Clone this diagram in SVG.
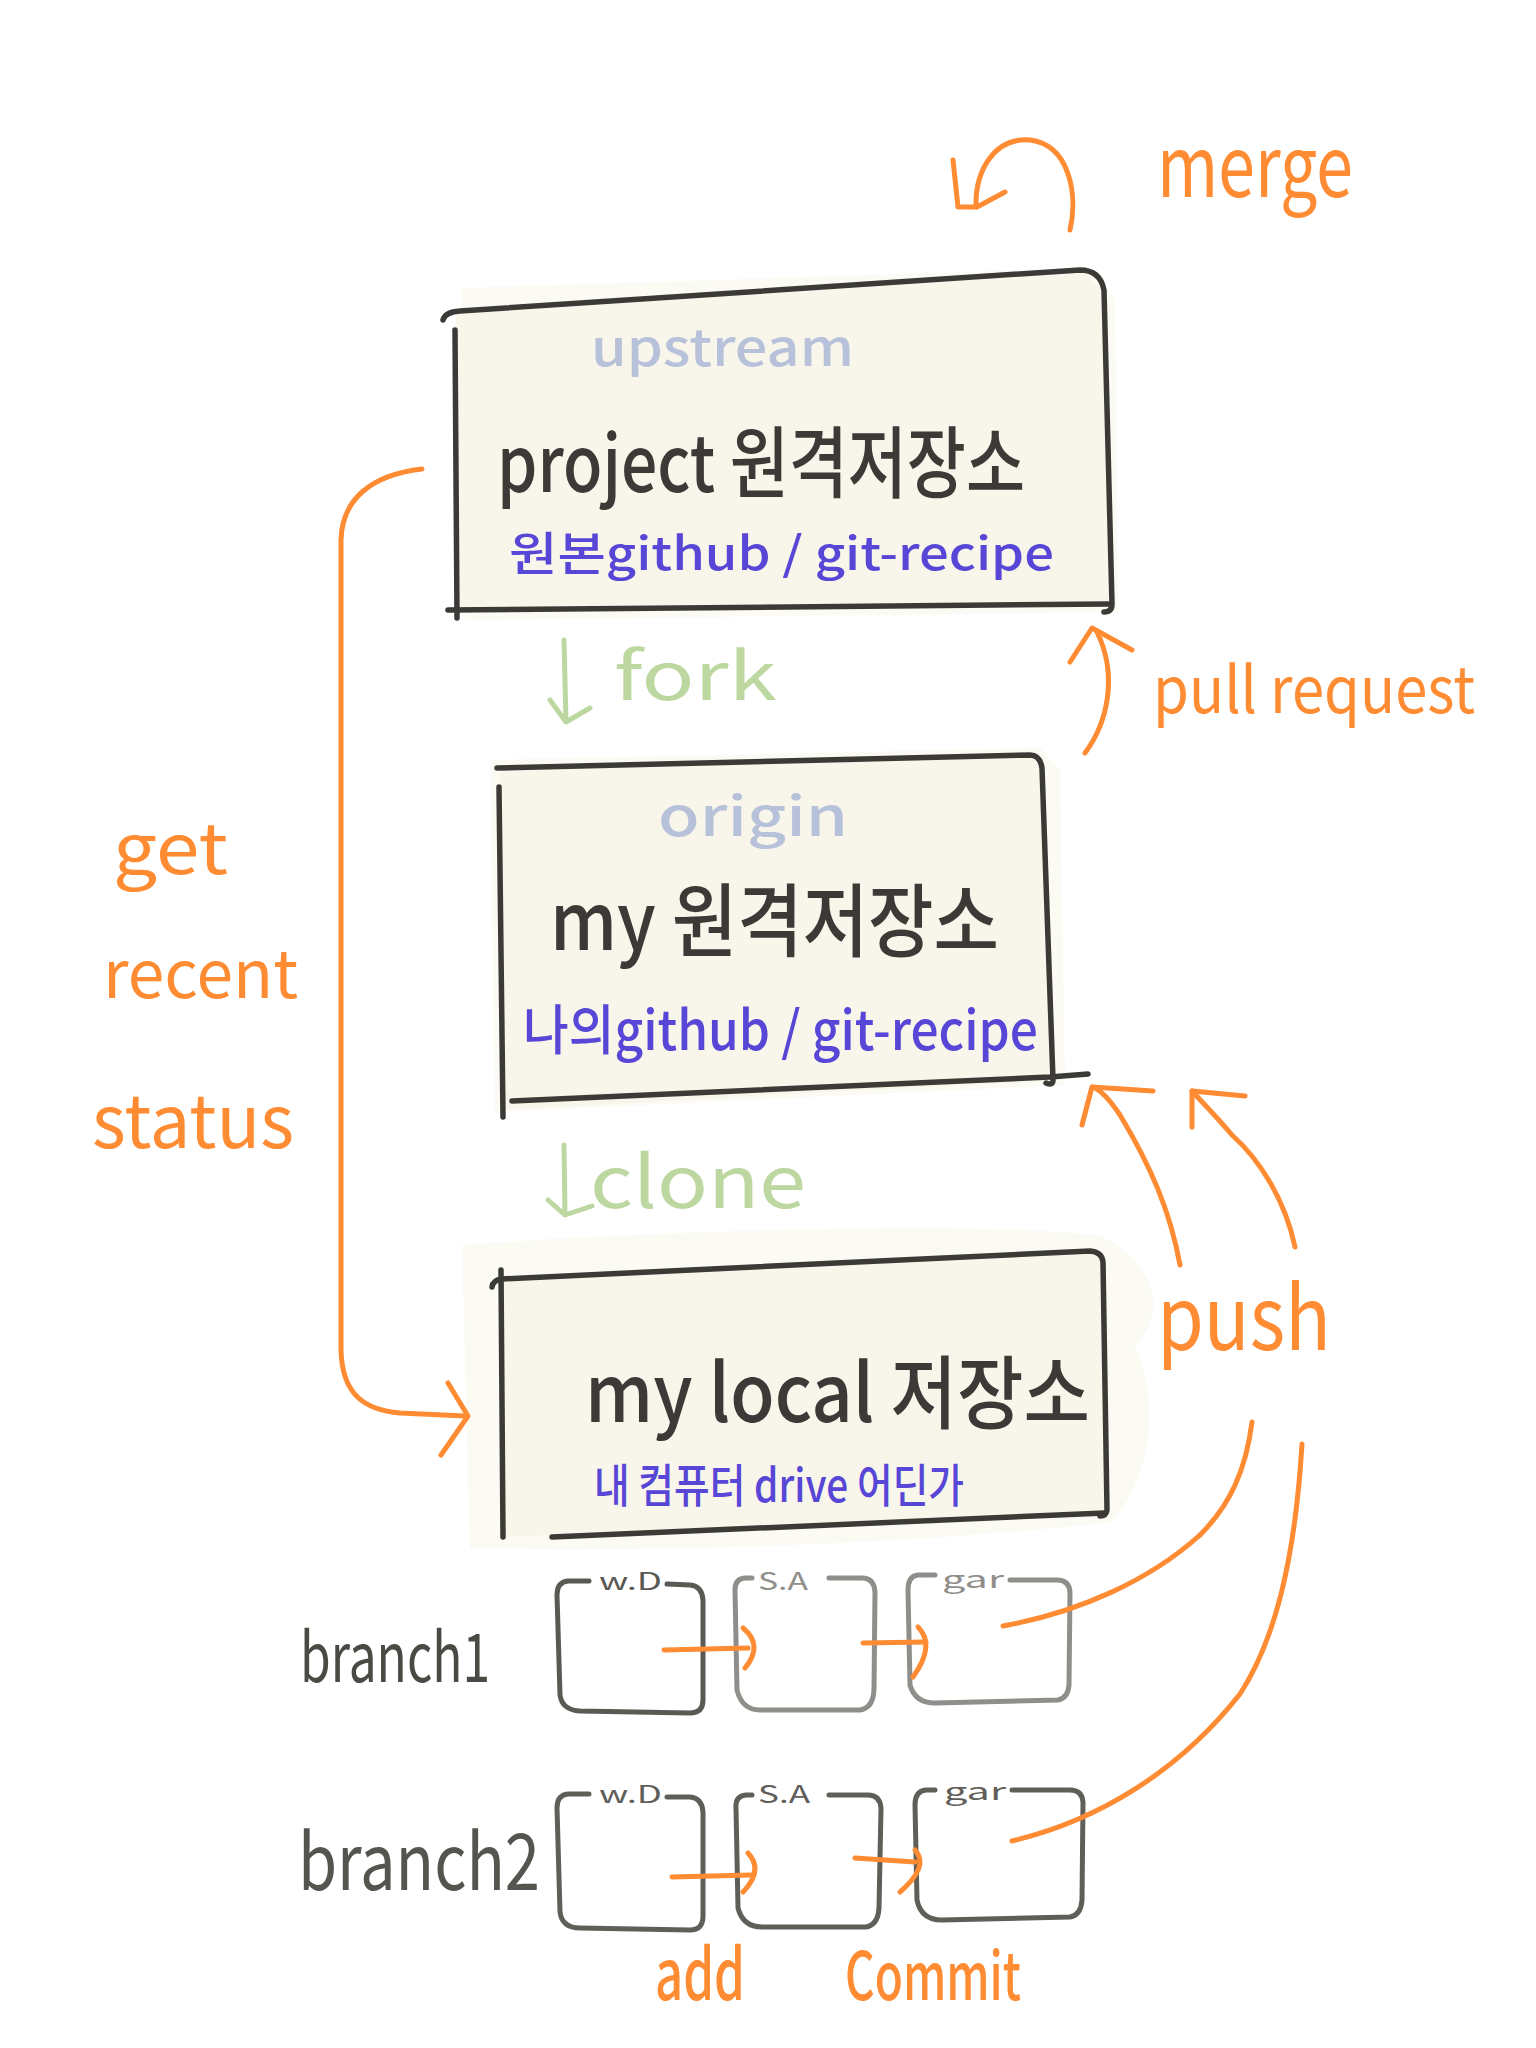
<svg xmlns="http://www.w3.org/2000/svg" width="1536" height="2048" viewBox="0 0 1536 2048">
<style>
text{font-family:"Noto Sans CJK KR","Noto Sans",sans-serif}
.box{fill:none;stroke:#3b3a36;stroke-width:5.5;stroke-linecap:round;stroke-linejoin:round}
.fill{fill:#f8f6ea}
.halo{fill:#fbfaf3}
.title{fill:#3b3a36;font-weight:500}
.tag{fill:#b8c1da;font-weight:500}
.sub{fill:#5846d6;font-weight:500}
.or{fill:none;stroke:#ff8b33;stroke-width:5;stroke-linecap:round;stroke-linejoin:round}
.ortxt{fill:#ff8b33}
.grn{fill:none;stroke:#bdd7a0;stroke-width:5;stroke-linecap:round;stroke-linejoin:round}
.grntxt{fill:#bdd7a0}
.cell{fill:none;stroke-width:5;stroke-linecap:round;stroke-linejoin:round}
.lbl{font-size:24px}
</style>
<rect width="1536" height="2048" fill="#ffffff"/>

<g id="upstream">
<path class="halo" d="M 462,288 L 1090,268 L 1115,300 L 1118,612 L 465,620 Z"/>
<path class="fill" d="M 456,314 L 1085,273 L 1106,294 L 1110,606 L 457,612 Z"/>
<path class="box" d="M 443,320 Q 445,312 460,311 L 1080,270 Q 1100,270 1104,290 L 1112,604 Q 1112,612 1104,612"/>
<path class="box" d="M 455,330 L 457,618"/>
<path class="box" d="M 448,610 L 1108,604"/>
<text class="tag" x="591" y="366" font-size="50" textLength="263" lengthAdjust="spacingAndGlyphs">upstream</text>
<text class="title" x="497" y="492" font-size="78" textLength="528" lengthAdjust="spacingAndGlyphs">project 원격저장소</text>
<text class="sub" x="509" y="570" font-size="46" textLength="545" lengthAdjust="spacingAndGlyphs">원본github / git-recipe</text>
</g>

<g id="origin">
<path class="halo" d="M 490,760 L 1040,748 L 1060,770 L 1065,1085 L 495,1112 Z"/>
<path class="fill" d="M 500,768 L 1030,756 L 1042,768 L 1053,1080 L 503,1110 Z"/>
<path class="box" d="M 497,768 L 1030,755 Q 1040,755 1042,768 L 1053,1080 Q 1053,1086 1046,1083"/>
<path class="box" d="M 499,787 L 503,1117"/>
<path class="box" d="M 512,1101 L 1050,1077 L 1088,1074"/>
<text class="tag" x="658" y="836" font-size="54" textLength="190" lengthAdjust="spacingAndGlyphs">origin</text>
<text class="title" x="550" y="950" font-size="80" textLength="449" lengthAdjust="spacingAndGlyphs">my 원격저장소</text>
<text class="sub" x="523" y="1050" font-size="54" textLength="515" lengthAdjust="spacingAndGlyphs">나의github / git-recipe</text>
</g>

<g id="local">
<path class="halo" d="M 462,1245 C 700,1228 1000,1222 1100,1236 C 1160,1262 1165,1318 1135,1345 C 1160,1400 1152,1475 1112,1522 C 900,1546 650,1552 470,1548 Z"/>
<path class="fill" d="M 500,1280 L 1092,1252 L 1103,1262 L 1106,1512 L 503,1537 Z"/>
<path class="box" d="M 492,1287 Q 493,1280 502,1279 L 1090,1251 Q 1102,1252 1103,1262 L 1107,1510 Q 1106,1516 1100,1516"/>
<path class="box" d="M 501,1270 L 503,1537"/>
<path class="box" d="M 552,1537 L 1105,1513"/>
<text class="title" x="585" y="1422" font-size="80" textLength="505" lengthAdjust="spacingAndGlyphs">my  local 저장소</text>
<text class="sub" x="594" y="1502" font-size="46" textLength="370" lengthAdjust="spacingAndGlyphs">내 컴퓨터 drive 어딘가</text>
</g>

<g id="branch1">
<text fill="#4a4944" x="300" y="1682" font-size="68" textLength="190" lengthAdjust="spacingAndGlyphs">branch1</text>
<g id="branch1-wd">
<path class="cell" stroke="#5a5954" d="M 589,1581 L 568,1581 Q 557,1582 557,1595 L 560,1695 Q 562,1710 580,1711 L 690,1713 Q 703,1713 703,1700 L 703,1600 Q 702,1586 690,1585 L 667,1584"/>
<text class="lbl" fill="#5a5954" x="599" y="1590" textLength="63" lengthAdjust="spacingAndGlyphs">w.D</text>
</g>
<g id="branch1-sa">
<path class="cell" stroke="#8f8e8a" d="M 752,1578 L 746,1578 Q 735,1578 735,1590 L 737,1690 Q 742,1710 760,1710 L 860,1710 Q 873,1708 874,1690 L 875,1592 Q 874,1578 862,1578 L 829,1578"/>
<text class="lbl" fill="#8f8e8a" x="758" y="1590" textLength="50" lengthAdjust="spacingAndGlyphs">S.A</text>
</g>
<g id="branch1-gar">
<path class="cell" stroke="#8f8e8a" d="M 935,1575 L 918,1575 Q 908,1576 908,1590 L 910,1685 Q 915,1703 935,1703 L 1058,1700 Q 1068,1698 1069,1685 L 1070,1592 Q 1069,1580 1057,1580 L 1010,1580"/>
<text class="lbl" fill="#8f8e8a" x="942" y="1588" textLength="62" lengthAdjust="spacingAndGlyphs">gar</text>
</g>
</g>

<g id="branch2">
<text fill="#55544f" x="298" y="1890" font-size="78" textLength="242" lengthAdjust="spacingAndGlyphs">branch2</text>
<g id="branch2-wd">
<path class="cell" stroke="#5f5e59" d="M 589,1794 L 568,1794 Q 557,1795 557,1808 L 560,1912 Q 562,1928 580,1928 L 690,1930 Q 703,1930 703,1916 L 703,1812 Q 702,1798 690,1797 L 667,1797"/>
<text class="lbl" fill="#5f5e59" x="599" y="1803" textLength="63" lengthAdjust="spacingAndGlyphs">w.D</text>
</g>
<g id="branch2-sa">
<path class="cell" stroke="#5f5e59" d="M 752,1795 L 746,1795 Q 735,1796 736,1808 L 738,1908 Q 743,1927 762,1927 L 866,1927 Q 878,1925 879,1908 L 881,1808 Q 880,1795 868,1795 L 829,1795"/>
<text class="lbl" fill="#5f5e59" x="758" y="1803" textLength="52" lengthAdjust="spacingAndGlyphs">S.A</text>
</g>
<g id="branch2-gar">
<path class="cell" stroke="#5f5e59" d="M 935,1790 L 926,1790 Q 915,1791 915,1805 L 917,1900 Q 921,1920 942,1920 L 1070,1917 Q 1081,1915 1082,1900 L 1083,1802 Q 1082,1790 1070,1790 L 1012,1790"/>
<text class="lbl" fill="#5f5e59" x="944" y="1800" textLength="62" lengthAdjust="spacingAndGlyphs">gar</text>
</g>
</g>

<g id="connectors">
<path class="grn" d="M 564,640 L 566,722 M 550,700 L 566,722 L 590,708"/>
<text class="grntxt" x="614" y="700" font-size="66" textLength="163" lengthAdjust="spacingAndGlyphs">fork</text>
<path class="grn" d="M 564,1145 L 565,1215 M 548,1200 L 565,1215 L 592,1206"/>
<text class="grntxt" x="590" y="1208" font-size="72" textLength="216" lengthAdjust="spacingAndGlyphs">clone</text>

<path class="or" d="M 1070,230 C 1078,195 1070,145 1030,140 C 995,137 975,170 976,207"/>
<path class="or" d="M 953,160 L 958,207 L 977,207 L 1005,192"/>
<text class="ortxt" x="1157" y="197" font-size="84" textLength="196" lengthAdjust="spacingAndGlyphs">merge</text>

<path class="or" d="M 1085,753 C 1108,722 1118,675 1097,632"/>
<path class="or" d="M 1070,662 L 1092,628 L 1132,650"/>
<text class="ortxt" x="1153" y="713" font-size="64" textLength="322" lengthAdjust="spacingAndGlyphs">pull request</text>

<path class="or" d="M 422,469 C 370,475 342,500 341,540 L 341,1350 C 342,1395 365,1410 400,1413 L 465,1416"/>
<path class="or" d="M 448,1383 L 468,1416 L 441,1455"/>
<text class="ortxt" x="113" y="874" font-size="70" textLength="115" lengthAdjust="spacingAndGlyphs">get</text>
<text class="ortxt" x="103" y="998" font-size="66" textLength="195" lengthAdjust="spacingAndGlyphs">recent</text>
<text class="ortxt" x="92" y="1148" font-size="74" textLength="202" lengthAdjust="spacingAndGlyphs">status</text>

<path class="or" stroke-width="6.5" d="M 1180,1265 C 1170,1210 1150,1165 1120,1115 C 1110,1100 1100,1090 1093,1087"/>
<path class="or" stroke-width="6" d="M 1082,1125 L 1092,1087 L 1153,1091"/>
<path class="or" stroke-width="3.5" d="M 1295,1247 C 1285,1200 1260,1160 1232,1135 C 1215,1115 1200,1100 1192,1091"/>
<path class="or" stroke-width="5" d="M 1192,1127 L 1192,1091 L 1245,1096"/>
<text class="ortxt" x="1157" y="1350" font-size="88" textLength="174" lengthAdjust="spacingAndGlyphs">push</text>
<path class="or" stroke="#ffa866" stroke-width="6" d="M 1252,1422 C 1246,1470 1230,1505 1200,1535"/>
<path class="or" stroke-width="3.5" d="M 1200,1535 C 1150,1580 1080,1612 1003,1626"/>
<path class="or" stroke-width="4" d="M 1302,1444 C 1295,1560 1275,1640 1240,1694 C 1180,1770 1100,1820 1012,1841"/>

<path class="or" stroke-width="6" d="M 664,1650 L 748,1648"/>
<path class="or" d="M 743,1628 Q 764,1645 745,1668"/>
<path class="or" stroke-width="6" d="M 863,1643 L 926,1642"/>
<path class="or" d="M 918,1627 Q 936,1645 913,1677"/>
<path class="or" stroke-width="6" d="M 672,1877 L 751,1875"/>
<path class="or" d="M 748,1853 Q 764,1870 743,1892"/>
<path class="or" stroke-width="6" d="M 855,1858 L 915,1862"/>
<path class="or" d="M 915,1850 Q 930,1866 900,1892"/>
<text class="ortxt" x="655" y="2000" font-size="70" font-weight="500" textLength="90" lengthAdjust="spacingAndGlyphs">add</text>
<text class="ortxt" x="845" y="2000" font-size="66" font-weight="500" textLength="176" lengthAdjust="spacingAndGlyphs">Commit</text>
</g>
</svg>
